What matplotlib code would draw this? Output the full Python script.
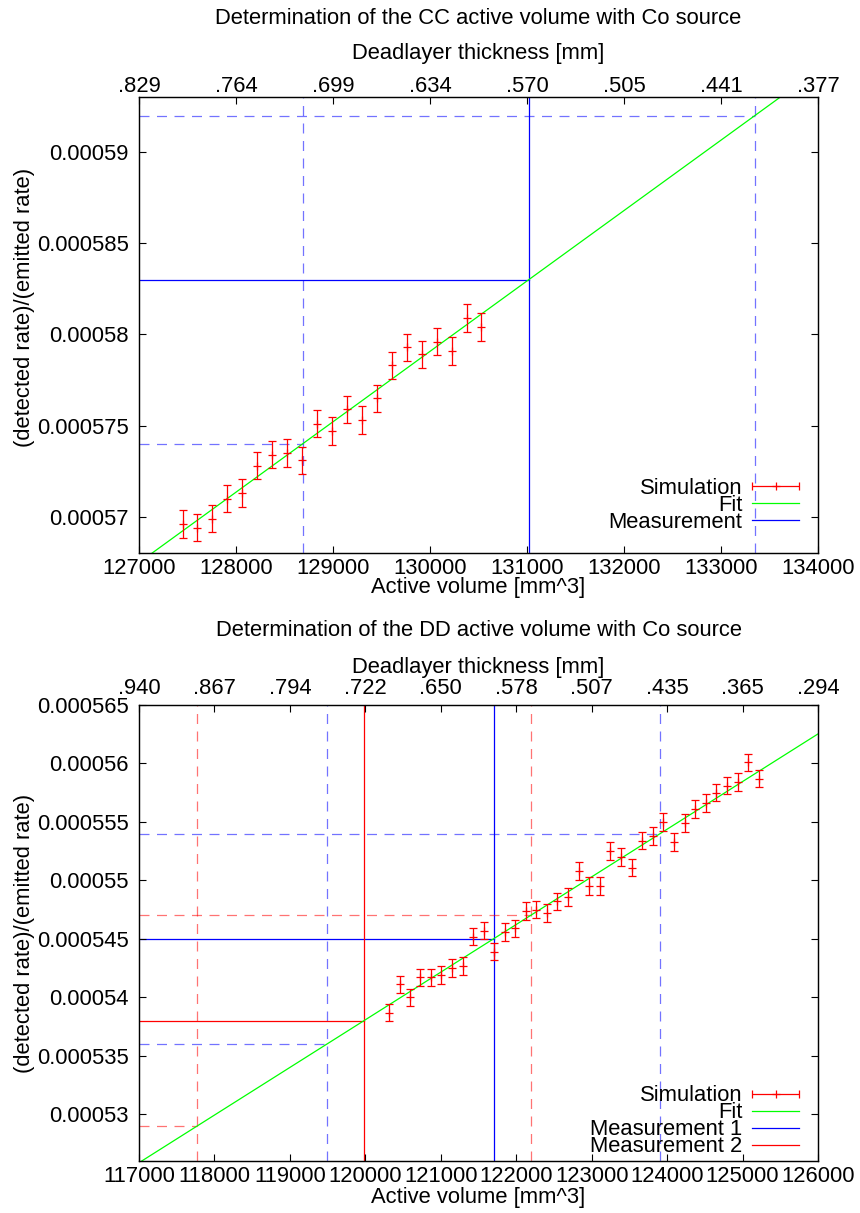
import numpy as np
import matplotlib
matplotlib.use("Agg")
import matplotlib.pyplot as plt
from matplotlib.legend_handler import HandlerErrorbar

plt.rcParams["font.family"] = ["Liberation Sans", "DejaVu Sans"]
plt.rcParams["font.size"] = 15.8

# ---- CC detector ----
cc_volume = [127450, 127601, 127756, 127910, 128065, 128213, 128374, 128523,
             128677, 128832, 128987, 129141, 129296, 129451, 129605, 129760,
             129914, 130069, 130224, 130378, 130523]
cc_ratio = [0.0005696, 0.0005694, 0.0005699, 0.0005710, 0.0005713, 0.0005728,
            0.0005734, 0.0005735, 0.0005731, 0.0005751, 0.0005747, 0.0005759,
            0.0005753, 0.0005765, 0.0005783, 0.0005793, 0.0005789, 0.0005796,
            0.0005791, 0.0005809, 0.0005804]
cc_err = 0.00000075
cc_fit = (7.7271e-5, 3.86e-9)  # intercept, slope
cc_meas_rate = [0.000583]
cc_meas_err = [0.000009]
cc_meas_label = ["Measurement"]
cc_meas_color = ["#0000ff"]
cc_xticks = [127000, 128000, 129000, 130000, 131000, 132000, 133000, 134000]
cc_thickness = [".829", ".764", ".699", ".634", ".570", ".505", ".441", ".377"]
cc_yticks = [0.00057, 0.000575, 0.00058, 0.000585, 0.00059]
cc_ylim = (0.000568, 0.000593)

# ---- DD detector ----
dd_volume = [120319, 120455, 120594, 120730, 120872, 121009, 121151, 121292,
             121430, 121571, 121709, 121845, 121987, 122128, 122266, 122407,
             122545, 122686, 122828, 122964, 123106, 123248, 123389, 123531,
             123668, 123810, 123952, 124089, 124231, 124372, 124510, 124651,
             124793, 124935, 125075, 125217]
dd_ratio = [0.0005387, 0.0005411, 0.0005400, 0.0005417, 0.0005417, 0.0005419,
            0.0005425, 0.0005427, 0.0005452, 0.0005457, 0.0005439, 0.0005456,
            0.0005459, 0.0005474, 0.0005475, 0.0005472, 0.0005482, 0.0005486,
            0.0005508, 0.0005495, 0.0005495, 0.0005525, 0.0005520, 0.0005511,
            0.0005534, 0.0005538, 0.0005550, 0.0005533, 0.0005549, 0.0005561,
            0.0005566, 0.0005575, 0.0005581, 0.0005584, 0.0005601, 0.0005587]
dd_err = 0.00000075
dd_fit = (4.9077e-5, 4.075e-9)
dd_meas_rate = [0.000545, 0.000538]
dd_meas_err = [0.000009, 0.000009]
dd_meas_label = ["Measurement 1", "Measurement 2"]
dd_meas_color = ["#0000ff", "#ff0000"]
dd_xticks = [117000, 118000, 119000, 120000, 121000, 122000, 123000, 124000,
             125000, 126000]
dd_thickness = [".940", ".867", ".794", ".722", ".650", ".578", ".507", ".435",
                ".365", ".294"]
dd_yticks = [0.00053, 0.000535, 0.00054, 0.000545, 0.00055, 0.000555, 0.00056,
             0.000565]
dd_ylim = (0.000526, 0.000565)

W, H = 860, 1213
fig = plt.figure(figsize=(W / 100, H / 100), dpi=100)


def px_axes(left, top, right, bottom):
    return fig.add_axes([left / W, 1 - bottom / H, (right - left) / W, (bottom - top) / H])


def draw_panel(ax, title, title_y, volume, ratio, err, fit, m_rate, m_err,
               m_label, m_color, xticks, thickness, yticks, ylim,
               top_pad, top_label_y, ylabel_y, xlabel_y, legend_y):
    xmin, xmax = xticks[0], xticks[-1]
    ax.set_xlim(xmin, xmax)
    ax.set_ylim(*ylim)

    # simulated points
    ax.errorbar(volume, ratio, yerr=err, fmt="+", color="#ff0000", ms=6,
                mew=0.9, elinewidth=0.9, capsize=3, capthick=0.9, zorder=3)
    sim_key = ax.errorbar([np.nan], [np.nan], xerr=[1.0], fmt="+",
                          color="#ff0000", ms=6, mew=0.9, elinewidth=0.9,
                          capsize=3, capthick=0.9)

    # linear fit
    fit_line = ax.axline((0, fit[0]), slope=fit[1], color="#00ff00", lw=0.9,
                         zorder=2)

    # measured rates projected onto the fit
    meas_lines = []
    for rate, e, col in zip(m_rate, m_err, m_color):
        for r, dashed in ((rate - e, True), (rate + e, True), (rate, False)):
            v = (r - fit[0]) / fit[1]
            kw = dict(color=col, lw=0.9, zorder=1)
            if dashed:
                kw.update(ls=(0, (8, 6)), alpha=0.55)
            line = ax.axvline(v, **kw)
            ax.plot([xmin, v], [r, r], **kw)
        meas_lines.append(line)

    ax.set_xticks(xticks)
    ax.set_xticklabels([str(t) for t in xticks])
    ax.set_yticks(yticks)
    ax.set_yticklabels(["%g" % t for t in yticks])
    ax.tick_params(axis="x", direction="in", length=5, width=0.8, pad=3.5,
                   top=False)
    ax.tick_params(axis="y", direction="in", length=5, width=0.8, pad=7.5,
                   left=True, right=True)
    for s in ax.spines.values():
        s.set_linewidth(1.0)
        s.set_color("#222222")

    ax.set_xlabel("Active volume [mm^3]")
    ax.xaxis.set_label_coords(0.5, xlabel_y)
    ax.set_ylabel("(detected rate)/(emitted rate)")
    ax.yaxis.set_label_coords(-0.153, ylabel_y)

    top = ax.twiny()
    top.set_xlim(xmin, xmax)
    top.set_xticks(xticks)
    top.set_xticklabels(thickness)
    top.tick_params(axis="x", direction="in", length=5, width=0.8, pad=top_pad)
    top.set_xlabel("Deadlayer thickness [mm]")
    top.xaxis.set_label_coords(0.5, top_label_y)

    fig.text((139 + 818) / 2 / W, 1 - title_y / H, title, ha="center",
             va="center")

    ax.legend([sim_key, fit_line] + meas_lines,
              ["Simulation", "Fit"] + m_label,
              handler_map={sim_key: HandlerErrorbar(xerr_size=1.07)},
              loc="lower right", bbox_to_anchor=(0.972, legend_y),
              frameon=False, markerfirst=False, borderpad=0,
              borderaxespad=0, handlelength=2.14, handletextpad=0.45,
              labelspacing=-0.18)


ax1 = px_axes(139, 97.3, 818, 553.3)
draw_panel(ax1, "Determination of the CC active volume with Co source", 19,
           cc_volume, cc_ratio, cc_err, cc_fit, cc_meas_rate, cc_meas_err,
           cc_meas_label, cc_meas_color, cc_xticks, cc_thickness, cc_yticks,
           cc_ylim, top_pad=0.5, top_label_y=1.085, ylabel_y=0.54,
           xlabel_y=-0.052, legend_y=0.045)

ax2 = px_axes(139, 705, 818, 1161)
draw_panel(ax2, "Determination of the DD active volume with Co source", 630,
           dd_volume, dd_ratio, dd_err, dd_fit, dd_meas_rate, dd_meas_err,
           dd_meas_label, dd_meas_color, dd_xticks, dd_thickness, dd_yticks,
           dd_ylim, top_pad=4, top_label_y=1.07, ylabel_y=0.5,
           xlabel_y=-0.057, legend_y=0.008)

fig.savefig("out.png", dpi=100)
